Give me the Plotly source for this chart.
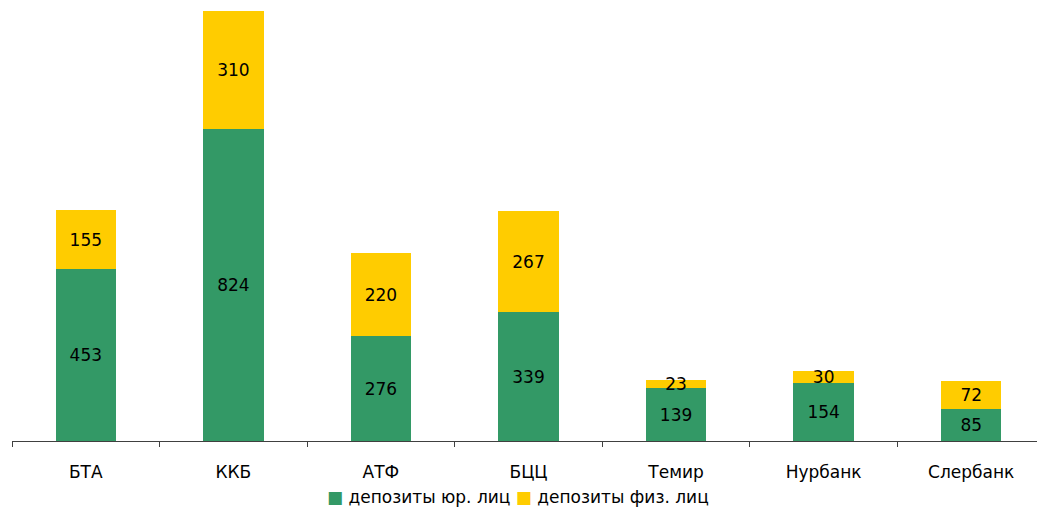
import plotly.graph_objects as go

categories = ["БТА", "ККБ", "АТФ", "БЦЦ", "Темир", "Нурбанк", "Слербанк"]
legal = [453, 824, 276, 339, 139, 154, 85]
individual = [155, 310, 220, 267, 23, 30, 72]
series_names = ["депозиты юр. лиц", "депозиты физ. лиц"]

green = "#339966"
yellow = "#FFCC00"
font_family = "DejaVu Sans, Verdana, sans-serif"
fs = 17

fig = go.Figure()
for vals, name, col in [(legal, series_names[0], green), (individual, series_names[1], yellow)]:
    fig.add_trace(go.Bar(
        x=categories, y=vals, name=name,
        marker=dict(color=col, line=dict(width=0)),
        text=[str(v) for v in vals], textposition="inside",
        insidetextanchor="middle", constraintext="none",
        textfont=dict(color="black", size=fs, family=font_family),
        width=0.41, showlegend=False,
    ))

legend_text = (
    f"<span style='color:{green}'>■</span> {series_names[0]} "
    f"<span style='color:{yellow}'>■</span> {series_names[1]}"
)
fig.add_annotation(
    xref="paper", yref="paper", x=0.494, y=-0.130,
    xanchor="center", yanchor="middle", showarrow=False,
    text=legend_text, font=dict(size=fs, family=font_family, color="black"),
)

fig.update_layout(
    barmode="stack",
    width=1037, height=508,
    margin=dict(l=12, r=0, t=11, b=67),
    plot_bgcolor="white", paper_bgcolor="white",
    font=dict(family=font_family, size=fs, color="black"),
    showlegend=False,
    xaxis=dict(
        range=[-0.5, 6.5 - 8 / 147.6],
        automargin=False,
        showline=True, linecolor="#404040", linewidth=1,
        ticks="outside", tickson="boundaries", ticklen=5, tickcolor="#404040",
        showgrid=False, ticklabelstandoff=16,
        tickfont=dict(size=fs),
    ),
    yaxis=dict(range=[0, 1134], visible=False, showgrid=False, automargin=False),
)

fig.write_html("out.html")
